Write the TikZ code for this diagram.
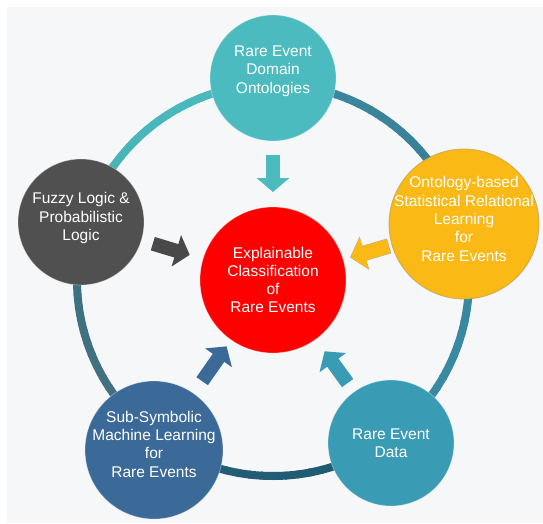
\documentclass[tikz,border=0pt]{standalone}
\usepackage{fontspec}
\setmainfont{Liberation Sans}
\usetikzlibrary{arrows.meta,calc}
\definecolor{bgc}{HTML}{F6F7F8}
\definecolor{topc}{HTML}{4BBBBF}
\definecolor{leftc}{HTML}{505050}
\definecolor{rightc}{HTML}{FAB915}
\definecolor{redc}{HTML}{FE0000}
\definecolor{blc}{HTML}{3B6A98}
\definecolor{brc}{HTML}{3A9BB4}
\definecolor{leftarr}{HTML}{494949}
\definecolor{yline}{HTML}{B59E62}
\definecolor{rA}{HTML}{3C8A9F}
\definecolor{rB}{HTML}{387C93}
\definecolor{rC}{HTML}{3A849D}
\definecolor{rD}{HTML}{3A8CA5}
\definecolor{rE}{HTML}{1E5A70}
\definecolor{rF}{HTML}{255F78}
\definecolor{rG}{HTML}{466F7E}
\definecolor{rH}{HTML}{3A7384}
\definecolor{rI}{HTML}{45B2B6}
\definecolor{rJ}{HTML}{4BBCBF}
\begin{document}
\begin{tikzpicture}[x=1pt,y=-1pt,
  bubble/.style={circle, inner sep=0pt, draw=white, draw opacity=0.35, line width=0.8pt},
  txt/.style={text=white, align=center, font=\fontsize{15.5}{18.3}\selectfont},
  blk/.style={line width=14pt, -{Triangle[width=32pt,length=14pt]}},
]
\useasboundingbox (0,0) rectangle (543,523);
\fill[white] (0,0) rectangle (543,523);
\fill[bgc] (7,7) rectangle (543,523);
% ring
\coordinate (ringc) at (273,280);
\foreach \a/\b/\ca/\cb in {-90/-16/rA/rB, -16/54/rC/rD, 54/125/rE/rF, 125/197/rG/rH, 197/270/rI/rJ}{
  \foreach \i in {0,...,19}{
    \pgfmathsetmacro\s{\a+(\b-\a)*\i/20}
    \pgfmathsetmacro\e{\a+(\b-\a)*(\i+1.15)/20}
    \pgfmathtruncatemacro\p{100-100*\i/19}
    \draw[line width=8pt, color=\ca!\p!\cb] ($(ringc)+(\s:196)$) arc[start angle=\s, end angle=\e, radius=196];
  }
}
% circles
\node[bubble, fill=topc, minimum size=126pt, label={[txt, yshift=7pt]center:Rare Event\\Domain\\Ontologies}] (top) at (273,78) {};
\node[bubble, fill=leftc, minimum size=126pt, label={[txt, yshift=4pt]center:Fuzzy Logic \&\\Probabilistic\\Logic}] (left) at (81,222) {};
\node[bubble, fill=rightc, draw=yline, draw opacity=0.7, minimum size=150pt, label={[txt, yshift=5pt]center:Ontology-based\\Statistical Relational\\Learning\\for\\Rare Events}] (right) at (464,224) {};
\node[bubble, fill=redc, minimum size=146pt, label={[txt]center:Explainable\\Classification\\of\\Rare Events}] (ctr) at (273,280) {};
\node[bubble, fill=blc, minimum size=138pt, label={[txt, yshift=6pt]center:Sub-Symbolic\\Machine Learning\\for\\Rare Events}] (bl) at (154,450) {};
\node[bubble, fill=brc, minimum size=126pt, label={[txt]center:Rare Event\\Data}] (br) at (391,443) {};
% block arrows
\draw[blk, topc, shorten <=77pt, shorten >=88pt] (top.center) -- (ctr.center);
\draw[blk, leftarr, shorten <=75pt, shorten >=87pt] (left.center) -- (ctr.center);
\draw[line width=15.4pt, -{Triangle[width=34pt,length=15pt]}, yline, opacity=0.8, shorten <=78pt, shorten >=80.3pt] (right.center) -- (ctr.center);
\draw[blk, rightc, shorten <=78.7pt, shorten >=81pt] (right.center) -- (ctr.center);
\draw[blk, blc, shorten <=84pt, shorten >=81pt] (bl.center) -- (ctr.center);
\draw[blk, brc, shorten <=74pt, shorten >=88pt] (br.center) -- (ctr.center);
\end{tikzpicture}
\end{document}
